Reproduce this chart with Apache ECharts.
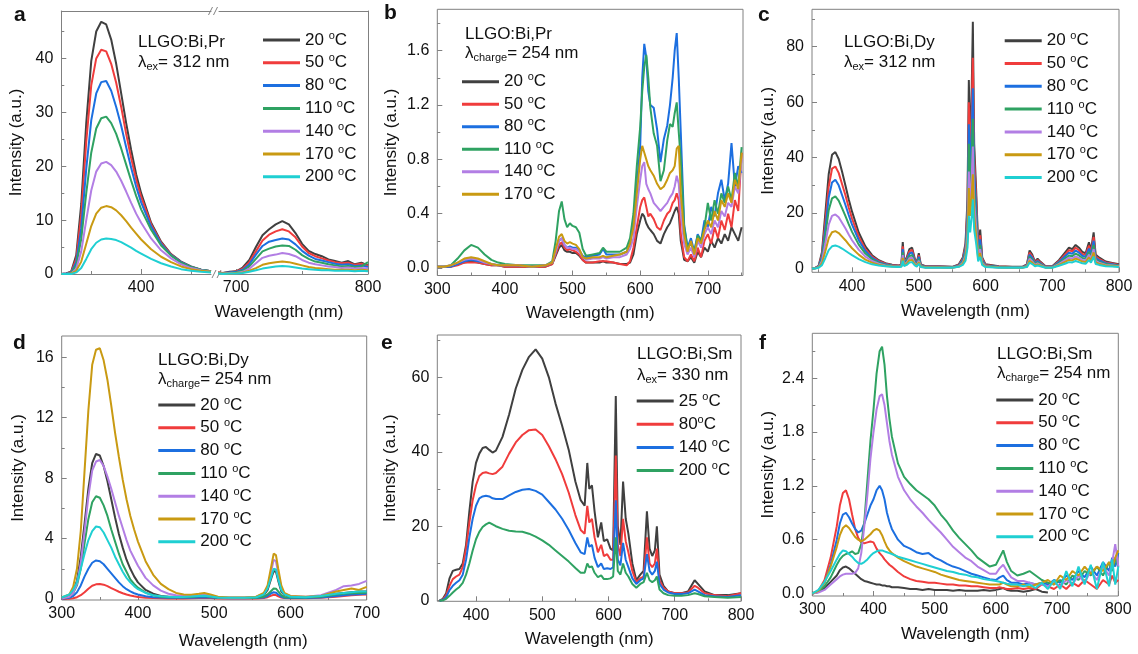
<!DOCTYPE html>
<html>
<head>
<meta charset="utf-8">
<title>LLGO spectra</title>
<script src="https://cdn.jsdelivr.net/npm/echarts@6.0.0/dist/echarts.min.js"></script>
<style>
  html, body { margin: 0; padding: 0; background: #fff; }
  #chart { width: 1138px; height: 654px; }
</style>
</head>
<body>
<div id="chart"></div>
<script>
// ---------- values ----------

// legend text
var labelsMain = ['20 °C', '50 °C', '80 °C', '110 °C', '140 °C', '170 °C', '200 °C'];
var labelsB = ['20 °C', '50 °C', '80 °C', '110 °C', '140 °C', '170 °C'];
var labelsE = ['25 °C', '80°C', '140 °C', '200 °C'];

// tick labels
var ticksA1 = [400], minorA1 = [350, 450];
var ticksA2 = [700, 800], minorA2 = [750];
var ticksAy = [0, 10, 20, 30, 40], minorAy = [5, 15, 25, 35, 45];
var ticksB = [300, 400, 500, 600, 700], minorB = [350, 450, 550, 650, 750];
var ticksBy = [0, 0.4, 0.8, 1.2, 1.6], minorBy = [0.2, 0.6, 1.0, 1.4, 1.8];
var ticksC = [400, 500, 600, 700, 800], minorC = [350, 450, 550, 650, 750];
var ticksCy = [0, 20, 40, 60, 80], minorCy = [10, 30, 50, 70, 90];
var ticksD = [300, 400, 500, 600, 700], minorD = [350, 450, 550, 650];
var ticksDy = [0, 4, 8, 12, 16], minorDy = [2, 6, 10, 14];
var ticksE = [400, 500, 600, 700, 800], minorE = [350, 450, 550, 650, 750];
var ticksEy = [0, 20, 40, 60], minorEy = [10, 30, 50, 70];
var ticksF = [300, 400, 500, 600, 700, 800], minorF = [350, 450, 550, 650, 750];
var ticksFy = [0, 0.6, 1.2, 1.8, 2.4], minorFy = [0.3, 0.9, 1.5, 2.1, 2.7];

// panel a (broken axis)
var waveAL = [320,325,330,335,340,345,350,355,360,365,370,375,380,385,390,395,400,410,420,430,440,450,460,470];
var a20L  = [0,0.1,0.5,3.5,13,28,39.5,45,46.8,46.3,43.5,39,33.5,28,23,18.5,15,9.5,6,3.7,2.3,1.4,0.8,0.5];
var a50L  = [0,0.1,0.4,2.8,11,24.5,35,40,41.6,41.3,39,35.5,31,26,21.5,17.5,14.3,9.2,5.8,3.6,2.2,1.3,0.8,0.5];
var a80L  = [0,0.1,0.3,2.2,8.5,19.5,28.5,33.5,35.6,35.8,34,31,27.5,23.5,19.7,16.2,13.3,8.8,5.6,3.5,2.2,1.3,0.8,0.5];
var a110L = [0,0,0.2,1.6,6.5,15,22.5,27,28.9,29.2,28,26,23.3,20.3,17.3,14.5,12,8.2,5.3,3.4,2.1,1.3,0.8,0.5];
var a140L = [0,0,0.1,1,4.2,10,15.5,19,20.5,20.8,20.2,19,17.3,15.3,13.2,11.2,9.5,6.6,4.4,2.9,1.8,1.1,0.7,0.4];
var a170L = [0,0,0.1,0.6,2.3,5.6,8.9,11.2,12.3,12.6,12.4,11.8,10.9,9.8,8.6,7.5,6.4,4.6,3.2,2.2,1.4,0.9,0.6,0.4];
var a200L = [0,0,0,0.3,1.1,2.8,4.6,5.8,6.4,6.6,6.5,6.3,5.9,5.4,4.9,4.3,3.8,2.8,2,1.4,0.9,0.6,0.4,0.3];
var waveAR = [685,690,695,700,705,710,715,720,725,730,735,740,745,750,755,760,765,770,775,780,785,790,795,800];
var a20R  = [0.3,0.2,0.4,0.5,1.2,2.6,5,7.2,8.3,9.2,9.8,9.2,7.6,5.6,4.3,3.7,3.3,2.7,2.4,2.1,2.4,1.8,2.1,1.6];
var a50R  = [0.3,0.2,0.3,0.5,1,2.2,4.2,6.2,7.3,7.9,8.3,7.9,6.8,5.1,3.9,3.3,2.9,2.5,2.2,2,2.1,1.7,1.9,1.5];
var a80R  = [0.2,0.2,0.3,0.4,0.8,1.8,3.6,5.2,6,6.3,6.6,6.4,5.5,4.3,3.4,2.8,2.5,2.2,1.9,1.7,1.8,1.5,1.6,1.3];
var a110R = [0.2,0.1,0.2,0.3,0.6,1.4,2.8,4.2,4.7,5.1,5.3,5.2,4.5,3.5,2.8,2.3,2.1,1.8,1.6,1.4,1.5,1.3,1.4,2.2];
var a140R = [0.1,0.1,0.2,0.2,0.4,1,2,3,3.4,3.6,3.9,3.7,3.3,2.6,2.1,1.8,1.6,1.4,1.3,1.1,1.2,1,1.1,1];
var a170R = [0.1,0.1,0.1,0.2,0.3,0.6,1.1,1.7,2,2.2,2.3,2.2,1.9,1.6,1.3,1.1,1,0.9,0.8,0.8,0.8,0.7,0.8,0.7];
var a200R = [0.1,0,0.1,0.1,0.2,0.4,0.7,1,1.2,1.4,1.5,1.4,1.2,1,0.9,0.8,0.7,0.7,0.6,0.6,0.6,0.5,0.6,0.5];

// panel b
var waveB = [300,310,320,330,340,350,360,370,380,390,400,420,440,460,470,475,480,484,488,492,
  496,500,505,510,515,520,530,540,545,550,560,570,580,585,590,595,600,603,606,609,
  612,615,620,625,630,635,640,644,648,651,654,657,660,665,670,675,680,685,690,695,
  700,705,710,715,720,725,730,735,740,745,750];
var b20 = [0.01,0.01,0.01,0.03,0.04,0.05,0.04,0.03,0.02,0.02,0.01,0.01,0.01,0.01,0.03,0.09,0.15,0.17,0.13,0.12,
  0.12,0.11,0.11,0.09,0.06,0.04,0.04,0.04,0.05,0.04,0.04,0.03,0.03,0.04,0.1,0.25,0.35,0.4,0.38,0.33,
  0.3,0.28,0.25,0.2,0.18,0.25,0.3,0.33,0.38,0.42,0.45,0.4,0.2,0.06,0.05,0.08,0.04,0.12,0.08,0.15,
  0.12,0.2,0.15,0.22,0.18,0.25,0.2,0.3,0.25,0.2,0.3];
var b50 = [0.01,0.01,0.01,0.02,0.04,0.04,0.04,0.03,0.02,0.02,0.01,0.01,0.01,0.01,0.03,0.1,0.17,0.19,0.15,0.13,
  0.14,0.13,0.12,0.1,0.06,0.04,0.04,0.05,0.05,0.05,0.04,0.03,0.02,0.05,0.15,0.3,0.45,0.5,0.52,0.45,
  0.38,0.4,0.36,0.3,0.28,0.35,0.4,0.42,0.48,0.5,0.55,0.5,0.25,0.08,0.05,0.1,0.05,0.15,0.08,0.2,
  0.25,0.18,0.3,0.22,0.35,0.28,0.4,0.3,0.5,0.42,0.85];
var b80 = [0.01,0.01,0.01,0.03,0.05,0.06,0.05,0.04,0.03,0.02,0.02,0.02,0.01,0.02,0.04,0.12,0.2,0.22,0.17,0.15,
  0.16,0.15,0.15,0.13,0.09,0.08,0.09,0.1,0.14,0.1,0.1,0.1,0.12,0.18,0.35,0.6,0.9,1.4,1.65,1.55,
  1.3,1.2,1.18,1.02,0.78,0.95,1.05,1.2,1.4,1.6,1.73,1.4,1.0,0.32,0.15,0.22,0.12,0.25,0.2,0.35,
  0.3,0.45,0.38,0.55,0.65,0.5,0.62,0.92,0.6,0.75,0.7];
var b110 = [0.01,0.01,0.02,0.07,0.13,0.17,0.15,0.1,0.06,0.04,0.03,0.02,0.02,0.02,0.05,0.2,0.42,0.49,0.36,0.3,
  0.33,0.31,0.3,0.26,0.14,0.09,0.1,0.11,0.15,0.12,0.12,0.12,0.15,0.22,0.4,0.75,1.04,1.3,1.48,1.57,
  1.4,1.18,0.99,0.9,0.64,0.72,0.94,1.06,1.04,1.14,1.22,1.0,0.8,0.3,0.15,0.18,0.12,0.24,0.2,0.3,
  0.48,0.35,0.5,0.4,0.55,0.48,0.6,0.5,0.7,0.6,0.89];
var b140 = [0.01,0.01,0.02,0.04,0.06,0.07,0.06,0.04,0.03,0.02,0.02,0.02,0.01,0.02,0.04,0.12,0.2,0.22,0.17,0.15,
  0.15,0.14,0.14,0.12,0.08,0.06,0.07,0.07,0.08,0.07,0.08,0.08,0.1,0.14,0.22,0.45,0.65,0.75,0.78,0.62,
  0.58,0.55,0.48,0.45,0.42,0.45,0.48,0.52,0.55,0.6,0.68,0.62,0.4,0.18,0.1,0.15,0.08,0.2,0.15,0.25,
  0.3,0.25,0.35,0.3,0.42,0.38,0.48,0.45,0.6,0.55,0.8];
var b170 = [0.01,0.01,0.02,0.04,0.07,0.08,0.07,0.05,0.03,0.02,0.02,0.02,0.01,0.02,0.04,0.14,0.23,0.25,0.2,0.18,
  0.19,0.18,0.17,0.14,0.08,0.07,0.08,0.08,0.09,0.08,0.09,0.1,0.12,0.18,0.3,0.55,0.8,0.9,0.85,0.8,
  0.75,0.72,0.68,0.62,0.58,0.6,0.65,0.7,0.72,0.75,0.88,0.9,0.55,0.25,0.12,0.2,0.1,0.22,0.18,0.28,
  0.35,0.3,0.42,0.35,0.5,0.45,0.55,0.48,0.65,0.58,0.85];

// panel c
var waveC = [340,345,350,355,360,365,370,375,380,385,390,395,400,410,420,430,440,450,460,470,
  474,476,478,482,486,490,494,497,500,503,510,530,550,560,566,570,573,575,577,579,
  581,583,586,589,592,595,600,620,640,655,662,666,670,674,678,682,690,700,710,720,
  725,730,735,740,745,750,755,758,762,765,770,780,790,800];
var c20 = [0,0.2,1,6,20,34,41,42,39.5,35,30,25,20.5,13,8,4.8,3,1.9,1.4,1.1,
  1.5,9.5,2.5,4,7,7.5,3.5,2,5.5,1.5,0.8,0.8,0.6,1.5,4,9,25,68,45,60,
  89,45,28,8,14,4,1.5,0.8,0.6,0.6,1.5,6.5,5,2.5,3.5,2.5,0.8,0.8,3,6,
  7.5,7,8.5,7.5,6,5.5,9.5,6.5,13,5,4,2.5,2,1.5];
var c50 = [0,0.2,0.9,5,17,29.5,36,36.8,34.5,30.5,26.5,22,18,11.5,7,4.3,2.7,1.7,1.3,1,
  1.4,8,2.3,3.6,6.2,6.7,3.1,1.8,4.8,1.3,0.7,0.7,0.5,1.3,3.5,8,22,60,40,54,
  76,40,25,7,12,3.5,1.3,0.7,0.5,0.5,1.3,5.7,4.4,2.2,3.1,2.2,0.7,0.7,2.6,5.3,
  6.6,6.2,7.5,6.6,5.3,4.8,8.3,5.7,11.4,4.4,3.5,2.2,1.8,1.3];
var c80 = [0,0.2,0.8,4.3,14.5,25.5,31,32,30,26.5,23,19.3,15.8,10.2,6.3,3.8,2.4,1.5,1.1,0.9,
  1.2,7,2,3.1,5.4,5.8,2.7,1.6,4.2,1.2,0.6,0.6,0.5,1.1,3.1,7,19,52,35,46,
  65,35,22,6,10.5,3,1.1,0.6,0.5,0.5,1.1,5,3.8,1.9,2.7,1.9,0.6,0.6,2.3,4.6,
  5.7,5.3,6.5,5.7,4.6,4.2,7.2,5,10,3.8,3,1.9,1.5,1.1];
var c110 = [0,0.1,0.6,3.5,12,21,25.3,26,24.5,21.8,19,16,13.2,8.6,5.4,3.3,2.1,1.3,1,0.8,
  1,5.8,1.7,2.6,4.5,4.8,2.2,1.3,3.5,1,0.5,0.5,0.4,0.9,2.6,5.8,16,45,30,38,
  54,29,18,5,8.5,2.5,0.9,0.5,0.4,0.4,0.9,4.2,3.2,1.6,2.2,1.6,0.5,0.5,1.9,3.8,
  4.7,4.4,5.4,4.7,3.8,3.5,6,4.2,8.5,3.2,2.5,1.6,1.3,1];
var c140 = [0,0.1,0.5,2.7,9,15.8,19,19.5,18.5,16.5,14.5,12.3,10.2,6.8,4.3,2.7,1.7,1.1,0.8,0.7,
  0.9,4.8,1.4,2.1,3.7,3.9,1.8,1.1,2.8,0.8,0.4,0.4,0.3,0.8,2.1,4.7,13,35,24,31,
  44,24,15,4.2,7,2.1,0.8,0.4,0.3,0.3,0.8,3.5,2.6,1.3,1.8,1.3,0.4,0.4,1.6,3.1,
  3.8,3.6,4.4,3.8,3.1,2.9,5,3.5,7,2.7,2.1,1.3,1.1,0.8];
var c170 = [0,0.1,0.4,1.9,6.2,10.9,13.1,13.5,12.8,11.5,10.2,8.7,7.3,5,3.2,2.1,1.4,0.9,0.7,0.6,
  0.8,3.8,1.1,1.7,3,3.1,1.5,0.9,2.3,0.7,0.4,0.4,0.3,0.7,1.7,3.8,10,29,19,25,
  34,19,12,3.4,5.6,1.7,0.7,0.4,0.3,0.3,0.7,2.8,2.1,1.1,1.5,1.1,0.3,0.3,1.3,2.5,
  3.1,2.9,3.6,3.1,2.5,2.3,4,2.8,5.8,2.2,1.7,1.1,0.9,0.7];
var c200 = [0,0,0.3,1.2,3.8,6.6,8,8.3,7.9,7.2,6.4,5.6,4.8,3.4,2.3,1.5,1.1,0.8,0.6,0.5,
  0.6,2.8,0.9,1.3,2.2,2.3,1.1,0.7,1.7,0.5,0.3,0.3,0.3,0.6,1.3,2.8,7.5,19,13,18,
  25,14,9,2.6,4.2,1.3,0.5,0.3,0.3,0.3,0.5,2.1,1.6,0.8,1.1,0.8,0.3,0.3,1,1.8,
  2.3,2.2,2.7,2.3,1.9,1.7,3,2.1,4.3,1.6,1.3,0.8,0.7,0.5];

// panel d
var waveD = [300,310,315,320,325,330,335,340,345,350,355,360,365,370,375,380,385,390,395,400,
  410,420,430,440,450,460,470,480,487,495,505,520,540,555,565,570,575,578,581,584,
  588,592,600,620,640,660,670,680,690,700];
var d20 = [0.05,0.2,0.5,1.2,2.8,5,7.3,9,9.6,9.5,8.8,7.8,6.6,5.4,4.3,3.4,2.6,2,1.5,1.1,
  0.6,0.35,0.2,0.15,0.15,0.15,0.18,0.22,0.25,0.2,0.1,0.08,0.08,0.1,0.25,0.6,1.4,1.85,1.8,1.2,
  0.5,0.25,0.15,0.12,0.2,0.35,0.4,0.45,0.5,0.5];
var d50 = [0,0.02,0.05,0.12,0.25,0.45,0.68,0.88,0.97,1,0.95,0.85,0.72,0.6,0.48,0.38,0.3,0.23,0.18,0.14,
  0.09,0.06,0.05,0.04,0.04,0.04,0.05,0.06,0.07,0.06,0.04,0.03,0.03,0.04,0.07,0.12,0.22,0.28,0.26,0.18,
  0.1,0.06,0.05,0.05,0.08,0.15,0.2,0.25,0.28,0.3];
var d80 = [0.02,0.08,0.2,0.45,0.9,1.5,2,2.4,2.55,2.5,2.3,2,1.7,1.4,1.1,0.85,0.65,0.5,0.38,0.3,
  0.18,0.12,0.1,0.08,0.08,0.08,0.08,0.1,0.12,0.1,0.06,0.05,0.05,0.06,0.1,0.2,0.38,0.45,0.42,0.3,
  0.15,0.08,0.06,0.06,0.1,0.2,0.25,0.3,0.32,0.35];
var d110 = [0.05,0.15,0.4,0.9,2,3.7,5.3,6.4,6.8,6.7,6.2,5.5,4.6,3.8,3,2.3,1.8,1.3,1,0.75,
  0.42,0.25,0.15,0.12,0.12,0.12,0.14,0.18,0.2,0.15,0.08,0.06,0.06,0.08,0.15,0.3,0.55,0.7,0.68,0.5,
  0.25,0.12,0.1,0.1,0.15,0.3,0.35,0.38,0.4,0.42];
var d140 = [0.03,0.15,0.4,1,2.4,4.5,6.8,8.5,9.1,9.2,8.8,8.1,7.3,6.4,5.5,4.7,3.9,3.2,2.7,2.2,
  1.4,0.9,0.55,0.35,0.25,0.2,0.2,0.25,0.3,0.22,0.12,0.08,0.1,0.15,0.35,0.8,1.9,2.6,2.5,1.7,
  0.7,0.35,0.2,0.15,0.25,0.6,0.85,0.9,1.0,1.2];
var d170 = [0.1,0.3,0.8,2,4.5,8.5,12.5,15.5,16.5,16.6,15.8,14.5,12.8,11,9.4,7.9,6.6,5.5,4.6,3.8,
  2.5,1.6,1,0.65,0.4,0.3,0.28,0.35,0.4,0.3,0.15,0.1,0.1,0.15,0.4,0.9,2.2,3,2.9,2,
  0.9,0.4,0.2,0.15,0.2,0.5,0.6,0.7,0.6,0.8];
var d200 = [0.1,0.3,0.6,1.1,2,3,3.9,4.5,4.8,4.75,4.4,3.9,3.4,2.8,2.3,1.8,1.4,1.1,0.85,0.65,
  0.4,0.25,0.18,0.15,0.14,0.14,0.16,0.2,0.22,0.17,0.1,0.08,0.08,0.12,0.3,0.7,1.5,2,1.95,1.3,
  0.6,0.3,0.15,0.12,0.2,0.35,0.4,0.45,0.5,0.5];

// panel e
var waveE = [345,350,355,360,365,370,375,380,385,390,395,400,405,410,415,420,425,430,440,450,
  460,470,480,490,500,510,520,530,540,550,558,564,568,571,575,579,584,589,593,598,
  603,607,611,614,618,622,626,630,636,642,648,653,658,662,666,670,673,677,683,690,
  700,710,720,730,735,745,760,780,800];
var e25 = [0,0.5,2,6,8,8.3,8.5,10,15,24,32,37,39.5,41,41.3,40.5,39.8,40.3,44,50,
  57,62,65.5,67.5,65,60,53,47,40.5,32,27,25.5,37,30,31,24,17,21,16,16.5,
  14,13.5,55,20,15,32,22,18,10,5.5,7,8,24,14,12,13.5,20,7,4,2.5,
  2,2,2.5,5.5,4.5,2.5,1.5,1.5,2];
var e80 = [0,0.3,1.5,4,5.8,6.5,7,9,14,21,27,31,33.5,34.3,34.5,34.2,34,34.3,36,39.5,
  42.5,44.5,45.8,46,44.5,41.5,38,34,29,23,19,18,25.5,21,22,17,13,15,12,12.5,
  11,11,39,15,12,22,16,13,8,5,6,6.5,17,10,9,10,14,5.5,3.5,2.5,
  2,2,2.2,4,3.5,2,1.5,1.2,2];
var e140 = [0,0.2,1,2.8,4,4.8,5.5,7,11,17,22,25.5,27.5,28,28.2,28,27.5,27.3,27.3,28.3,
  29.2,29.8,30,29.5,28.5,26.5,24.5,22,19,15.5,13,12.5,17,14.5,15,11.5,9,10,8.5,8.7,
  8.5,9,27,11,9.5,15.5,11,9,6,4.5,5.5,6,12.5,8,7,8,10.5,4.5,3,2.2,
  1.8,1.8,2,3,2.5,1.5,1.2,1,1.5];
var e200 = [0,0.1,0.5,1.3,2.2,3,3.7,4.8,7,10,13.5,16.5,18.5,19.8,20.5,21,20.5,20,19.3,18.8,
  18.6,18.5,18,17.2,16.2,15,13.5,12,10.5,8.8,7.5,7.5,10,9,9.2,7.5,6.3,6.8,5.8,5.8,
  6,6.5,17,8,7,10,7.5,6.5,4.5,3.5,4.5,5,7.5,5.5,5,5.5,6.5,3,2,1.5,
  1.3,1.3,1.5,2,1.8,1.2,1,0.8,1];

// panel f
var waveF = [300,310,320,330,340,345,350,355,360,365,370,375,380,385,390,395,400,405,410,414,
  418,422,426,430,440,450,460,470,480,490,500,510,520,530,540,550,560,570,580,590,
  600,606,612,618,625,635,645,655,665,675,685,695,705,715,725,735,745,755,765,775,
  785,790,795,800];
var f20 = [0,0.02,0.06,0.13,0.2,0.26,0.29,0.3,0.28,0.25,0.22,0.19,0.16,0.14,0.13,0.12,0.11,0.1,0.1,0.09,
  0.09,0.08,0.08,0.07,0.07,0.06,0.05,0.05,0.04,0.05,0.04,0.04,0.04,0.03,0.04,0.03,0.03,0.03,0.04,0.03,
  0.04,0.05,0.06,0.04,0.03,0.03,0.02,0.03,0.05,0.02,0.01,null,null,null,null,null,null,null,null,null,
  null,null,null,null];
var f50 = [0,0.03,0.15,0.4,0.75,0.98,1.12,1.15,1.05,0.88,0.72,0.62,0.57,0.56,0.57,0.58,0.57,0.5,0.45,0.42,
  0.38,0.35,0.32,0.3,0.24,0.19,0.16,0.14,0.13,0.12,0.12,0.11,0.1,0.1,0.09,0.09,0.08,0.08,0.07,0.06,
  0.06,0.07,0.06,0.05,0.05,0.06,0.05,0.06,0.05,0.1,0.08,0.05,0.1,0.05,0.12,0.08,0.15,0.1,0.05,0.15,
  0.1,0.2,0.12,0.15];
var f80 = [0,0.03,0.12,0.32,0.6,0.78,0.88,0.9,0.85,0.78,0.72,0.68,0.7,0.78,0.88,0.98,1.05,1.15,1.2,1.15,
  1.05,0.9,0.8,0.72,0.6,0.53,0.5,0.46,0.44,0.45,0.4,0.37,0.33,0.3,0.28,0.25,0.22,0.2,0.18,0.16,
  0.15,0.18,0.2,0.15,0.12,0.12,0.1,0.12,0.1,0.12,0.1,0.15,0.12,0.2,0.15,0.25,0.18,0.3,0.2,0.35,
  0.25,0.4,0.3,0.45];
var f110 = [0,0.02,0.08,0.18,0.32,0.38,0.42,0.44,0.45,0.47,0.44,0.45,0.55,0.8,1.25,1.7,2.05,2.45,2.7,2.75,
  2.55,2.2,1.95,1.75,1.45,1.3,1.22,1.15,1.1,1.05,0.98,0.88,0.8,0.7,0.62,0.55,0.48,0.4,0.35,0.3,
  0.32,0.4,0.48,0.35,0.25,0.2,0.22,0.25,0.2,0.15,0.12,0.1,0.15,0.1,0.2,0.15,0.25,0.2,0.3,0.2,
  0.35,0.25,0.4,0.3];
var f140 = [0,0.01,0.04,0.1,0.16,0.19,0.21,0.22,0.22,0.22,0.23,0.28,0.45,0.75,1.1,1.5,1.8,2.05,2.2,2.22,
  2.1,1.9,1.7,1.55,1.3,1.15,1.05,0.97,0.9,0.82,0.75,0.68,0.6,0.52,0.46,0.4,0.36,0.3,0.26,0.22,
  0.22,0.28,0.32,0.25,0.18,0.14,0.14,0.12,0.1,0.1,0.08,0.12,0.08,0.15,0.1,0.2,0.12,0.25,0.15,0.3,
  0.2,0.35,0.55,0.3];
var f170 = [0,0.03,0.12,0.3,0.52,0.65,0.73,0.76,0.73,0.68,0.63,0.6,0.58,0.6,0.63,0.66,0.7,0.72,0.7,0.65,
  0.58,0.52,0.48,0.45,0.4,0.36,0.33,0.3,0.28,0.26,0.24,0.21,0.19,0.17,0.15,0.14,0.13,0.12,0.11,0.1,
  0.1,0.1,0.12,0.1,0.08,0.08,0.1,0.07,0.1,0.12,0.15,0.1,0.2,0.15,0.25,0.2,0.3,0.22,0.3,0.25,
  0.35,0.28,0.4,0.48];
var f200 = [0,0.04,0.13,0.25,0.38,0.44,0.48,0.47,0.44,0.41,0.37,0.34,0.33,0.35,0.38,0.42,0.45,0.47,0.48,0.48,
  0.47,0.46,0.45,0.44,0.41,0.39,0.37,0.35,0.33,0.31,0.29,0.27,0.25,0.24,0.22,0.21,0.19,0.18,0.16,0.15,
  0.14,0.13,0.12,0.11,0.1,0.1,0.08,0.1,0.06,0.12,0.05,0.15,0.05,0.25,0.08,0.3,0.1,0.32,0.05,0.35,
  0.08,0.38,0.1,0.3];

// ---------- drawing ----------
var FRAME = '#808080';
var INK = '#111111';
var FONT = '"Liberation Sans", Arial, Helvetica, sans-serif';
var colorsMain = ['#404040', '#f03c3c', '#1c6fe0', '#2fa262', '#b27ee4', '#c99a12', '#1fcfd2'];
var colorsE = ['#404040', '#f03c3c', '#1c6fe0', '#2fa262'];

var grids = [], xAxes = [], yAxes = [], series = [], legends = [], graphics = [];
var legendText = {};

function addGrid(box, border) {
  grids.push({left: box[0], top: box[1], width: box[2], height: box[3], show: border,
    borderColor: FRAME, borderWidth: 1, backgroundColor: 'transparent', outerBoundsMode: 'none'});
  return grids.length - 1;
}

function valueAxis(gi, pos, range, ticks, o) {
  o = o || {};
  var ax = {
    gridIndex: gi, type: 'value', position: pos, min: range[0], max: range[1],
    axisLine: {show: !!o.line, onZero: false, lineStyle: {color: FRAME, width: 1}},
    axisTick: {show: !!ticks, inside: true, length: o.tickLen || 5, customValues: ticks || [],
      lineStyle: {color: FRAME, width: 1}},
    axisLabel: {show: !!o.labels, customValues: ticks || [], margin: o.margin || 6,
      fontSize: 16, color: INK, fontFamily: FONT},
    splitLine: {show: false},
    name: o.name || '', nameLocation: 'middle', nameGap: o.nameGap || 30,
    nameTextStyle: {fontSize: 17, color: INK, fontFamily: FONT, padding: o.namePad || 0}
  };
  if (o.fmt) ax.axisLabel.formatter = o.fmt;
  return ax;
}

function addSeries(prefix, labels, colors, waves, rows, xi, yi) {
  labels.forEach(function (lab, k) {
    var name = prefix + k;
    legendText[name] = lab.replace('°', '{s|o}');
    series.push({
      name: name, type: 'line', xAxisIndex: xi, yAxisIndex: yi,
      showSymbol: false, symbol: 'none', silent: true,
      lineStyle: {width: 2, color: colors[k]}, itemStyle: {color: colors[k]},
      data: waves.map(function (w, i) { return [w, rows[k][i]]; })
    });
  });
}

function addLegend(prefix, labels, left, top, gap) {
  legends.push({
    orient: 'vertical', left: left, top: top, padding: 0,
    itemWidth: 37, itemHeight: 3, itemGap: gap, icon: 'rect', selectedMode: false,
    data: labels.map(function (l, k) { return prefix + k; }),
    formatter: function (name) { return legendText[name]; },
    textStyle: {fontSize: 17, color: INK, fontFamily: FONT, lineHeight: 20,
      rich: {s: {fontSize: 11, lineHeight: 11, verticalAlign: 'top', color: INK, fontFamily: FONT}}}
  });
}

function note(x, y, txt, size, bold) {
  graphics.push({type: 'text', x: x, y: y, silent: true, style: {
    text: txt, fontSize: size || 17, fontWeight: bold ? 'bold' : 'normal', fill: INK,
    fontFamily: FONT, verticalAlign: 'middle', lineHeight: 20,
    rich: {sub: {fontSize: 11, lineHeight: 9, verticalAlign: 'bottom', fill: INK, fontFamily: FONT}}
  }});
}

function mark(x1, y1, x2, y2) {
  graphics.push({type: 'line', silent: true, shape: {x1: x1, y1: y1, x2: x2, y2: y2},
    style: {stroke: FRAME, lineWidth: 1}});
}

function panel(box, xr, yr, xt, xm, yt, ym, fmt, gaps) {
  var gi = addGrid(box, true);
  xAxes.push(valueAxis(gi, 'bottom', xr, xt, {labels: true, name: 'Wavelength (nm)',
    nameGap: gaps[0], namePad: gaps[2]}));
  var xi = xAxes.length - 1;
  xAxes.push(valueAxis(gi, 'bottom', xr, xm, {tickLen: 3}));
  yAxes.push(valueAxis(gi, 'left', yr, yt, {labels: true, fmt: fmt, margin: 8,
    name: 'Intensity (a.u.)', nameGap: gaps[1]}));
  var yi = yAxes.length - 1;
  yAxes.push(valueAxis(gi, 'left', yr, ym, {tickLen: 3}));
  return [xi, yi];
}

var oneDec = function (v) { return v.toFixed(1); };

// panel a: two grids around the axis break
var yrA = [0, 48.8];
var gAL = addGrid([61.3, 11, 149.7, 263], false);
var gAR = addGrid([219, 11, 149, 263], false);
xAxes.push(valueAxis(gAL, 'bottom', [320, 470], ticksA1, {labels: true, line: true}));
var xAL = xAxes.length - 1;
xAxes.push(valueAxis(gAL, 'bottom', [320, 470], minorA1, {tickLen: 3}));
xAxes.push(valueAxis(gAL, 'top', [320, 470], null, {line: true}));
yAxes.push(valueAxis(gAL, 'left', yrA, ticksAy, {labels: true, line: true, margin: 8,
  name: 'Intensity (a.u.)', nameGap: 36}));
var yAL = yAxes.length - 1;
yAxes.push(valueAxis(gAL, 'left', yrA, minorAy, {tickLen: 3}));
xAxes.push(valueAxis(gAR, 'bottom', [687, 800], ticksA2, {labels: true, line: true}));
var xAR = xAxes.length - 1;
xAxes.push(valueAxis(gAR, 'bottom', [687, 800], minorA2, {tickLen: 3}));
xAxes.push(valueAxis(gAR, 'top', [687, 800], null, {line: true}));
yAxes.push(valueAxis(gAR, 'right', yrA, null, {line: true}));
var yAR = yAxes.length - 1;
addSeries('a', labelsMain, colorsMain, waveAL, [a20L, a50L, a80L, a110L, a140L, a170L, a200L], xAL, yAL);
addSeries('a', labelsMain, colorsMain, waveAR, [a20R, a50R, a80R, a110R, a140R, a170R, a200R], xAR, yAR);
addLegend('a', labelsMain, 263, 30, 2.8);
note(214.5, 312, 'Wavelength (nm)');
mark(208.5, 15, 212.5, 7); mark(213.5, 15, 217.5, 7);
mark(212, 278, 216, 270); mark(217, 278, 221, 270);

// panel b
var pb = panel([437.3, 9.3, 305.7, 266.2], [300, 752], [-0.055, 1.905], ticksB, minorB, ticksBy, minorBy, oneDec, [29, 37, 0]);
addSeries('b', labelsB, colorsMain, waveB, [b20, b50, b80, b110, b140, b170], pb[0], pb[1]);
addLegend('b', labelsB, 462, 71.7, 2.5);

// panel c
var pc = panel([812, 9.3, 307, 263], [340, 800], [-1.37, 93.5], ticksC, minorC, ticksCy, minorCy, null, [31, 35.5, 0]);
addSeries('c', labelsMain, colorsMain, waveC, [c20, c50, c80, c110, c140, c170, c200], pc[0], pc[1]);
addLegend('c', labelsMain, 1004.7, 30.7, 2.8);

// panel d
var pd = panel([61.7, 336, 305, 264], [300, 700], [-0.066, 17.41], ticksD, minorD, ticksDy, minorDy, null, [33, 35.2, [0, 0, 0, 58]]);
addSeries('d', labelsMain, colorsMain, waveD, [d20, d50, d80, d110, d140, d170, d200], pd[0], pd[1]);
addLegend('d', labelsMain, 158.3, 395, 2.8);

// panel e
var pe = panel([437.3, 335, 303.7, 266.3], [341.6, 800], [-0.16, 71.36], ticksE, minorE, ticksEy, minorEy, null, [30, 38.8, 0]);
addSeries('e', labelsE, colorsE, waveE, [e25, e80, e140, e200], pe[0], pe[1]);
addLegend('e', labelsE, 636.7, 391, 3.2);

// panel f
var pf = panel([812.3, 333.3, 306, 262.7], [300, 800], [-0.028, 2.9], ticksF, minorF, ticksFy, minorFy, oneDec, [29.5, 35.8, 0]);
addSeries('f', labelsMain, colorsMain, waveF, [f20, f50, f80, f110, f140, f170, f200], pf[0], pf[1]);
addLegend('f', labelsMain, 996.3, 390, 2.8);

// sample notes
note(138, 42, 'LLGO:Bi,Pr'); note(138, 62, 'λ{sub|ex}= 312 nm');
note(465, 34, 'LLGO:Bi,Pr'); note(465, 53, 'λ{sub|charge}= 254 nm');
note(844, 42, 'LLGO:Bi,Dy'); note(844, 62, 'λ{sub|ex}= 312 nm');
note(158, 360, 'LLGO:Bi,Dy'); note(158, 379, 'λ{sub|charge}= 254 nm');
note(637, 354, 'LLGO:Bi,Sm'); note(637, 375, 'λ{sub|ex}= 330 nm');
note(997, 354, 'LLGO:Bi,Sm'); note(997, 373, 'λ{sub|charge}= 254 nm');

// panel letters
note(14, 15, 'a', 21, true); note(384, 13, 'b', 21, true); note(758, 15, 'c', 21, true);
note(13, 343, 'd', 21, true); note(381, 343, 'e', 21, true); note(759, 343, 'f', 21, true);

var chart = echarts.init(document.getElementById('chart'), null, {renderer: 'canvas'});
chart.setOption({
  animation: false,
  textStyle: {fontFamily: FONT},
  grid: grids,
  xAxis: xAxes,
  yAxis: yAxes,
  legend: legends,
  series: series,
  graphic: {elements: graphics}
});
</script>
</body>
</html>
